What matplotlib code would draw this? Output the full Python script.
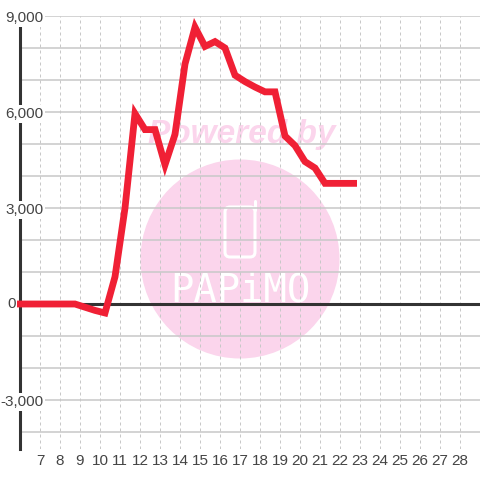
import matplotlib
matplotlib.use("Agg")
import matplotlib.pyplot as plt
from matplotlib.patches import Circle, FancyBboxPatch

# values
hours = [5.85, 8.75, 9.75, 10.25, 10.75, 11.25, 11.75, 12.25, 12.75, 13.25, 13.75, 14.25, 14.75,
         15.25, 15.75, 16.25, 16.75, 17.25, 17.75, 18.25, 18.75, 19.25, 19.75, 20.25, 20.75,
         21.25, 21.75, 22.25, 22.85]
values = [0, 0, -200, -280, 850, 3000, 5950, 5450, 5450, 4350, 5300, 7500, 8650,
          8050, 8200, 8000, 7150, 6950, 6780, 6630, 6630, 5250, 4950, 4450, 4250,
          3770, 3770, 3770, 3770]
x_ticks = list(range(7, 29))
y_major = [-3000, 0, 3000, 6000, 9000]
y_grid = [-4000, -3000, -2000, -1000, 1000, 2000, 3000, 4000, 5000, 6000, 7000, 8000, 9000]

plt.rcParams["font.family"] = "Liberation Sans"
label_size = 11
pink = "#fbd5ec"

fig = plt.figure(figsize=(4.8, 4.8), dpi=100)

# watermark sits under the grid, in pixel coordinates
wm = fig.add_axes([0, 0, 1, 1], zorder=0)
wm.set_xlim(0, 480)
wm.set_ylim(480, 0)
wm.axis("off")
wm.add_patch(Circle((240, 259), 99.5, fc=pink, ec="none"))
wm.add_patch(FancyBboxPatch((225, 207), 30, 50, boxstyle="round,pad=0,rounding_size=5",
                            fc="none", ec="white", lw=2.2))
wm.plot([255, 255], [201, 210], color="white", lw=2.2, solid_capstyle="round")
wm.text(240, 290, "PAPiMO", color="white", fontsize=28, ha="center", va="center",
        family="DejaVu Sans Mono")
wm.text(242, 134, "Powered by", color=pink, fontsize=24, ha="center", va="center",
        fontweight="bold", fontstyle="italic")

ax = fig.add_axes([20 / 480, 1 - 449 / 480, 460 / 480, 433 / 480], zorder=1)
ax.set_xlim(6, 29)
ax.set_ylim(-4531, 9000)
ax.patch.set_visible(False)
ax.axis("off")

ax.hlines(y_grid, 6, 29, color="#c8c8c8", lw=1.1, zorder=1)
ax.vlines(x_ticks, -4531, 9000, color="#c8c8c8", lw=0.72, linestyles=(0, (3, 3)), zorder=1)
ax.hlines(0, 6, 29, color="#333333", lw=2.2, zorder=2)
ax.plot([6, 6], [-4531, 9000], color="#333333", lw=2.2, clip_on=False, zorder=2)

for v in y_major:
    # the zero label sits further left than the others
    dx = -4 if v == 0 else 23.5
    dy = 0 if v == 0 else -2
    ax.annotate(f"{v:,}", (6, v), xytext=(dx, dy), textcoords="offset pixels",
                ha="right", va="center", fontsize=label_size, color="#444444",
                annotation_clip=False, zorder=3,
                bbox=dict(fc="white", ec="none", pad=1.2))
for t in x_ticks:
    ax.text(t, -4897, str(t), ha="center", va="center", fontsize=label_size,
            color="#444444", clip_on=False)

ax.plot(hours, values, color="#f02035", lw=4.9, solid_joinstyle="miter", solid_capstyle="butt",
        clip_on=False, zorder=5)

fig.savefig("out.png", dpi=100)
